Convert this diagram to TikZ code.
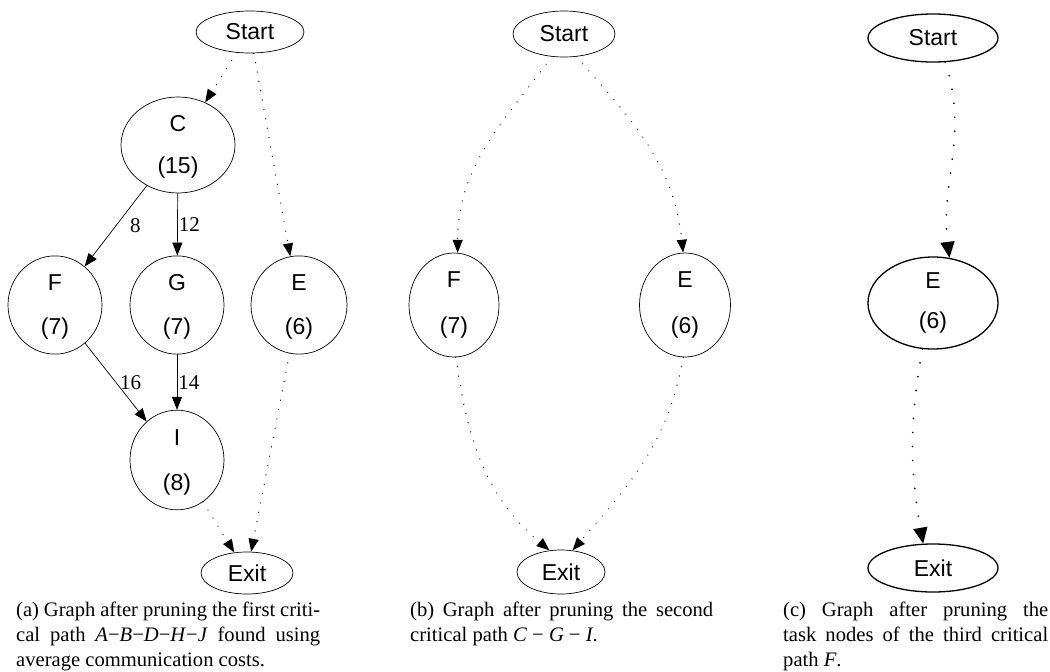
\documentclass[tikz,border=0pt]{standalone}
\usepackage{fontspec}
\setmainfont{Liberation Serif}
\setsansfont{Liberation Sans}
\usetikzlibrary{arrows.meta,shapes.geometric}
\newcommand{\toplift}{\rule{0pt}{0.9em}}
\begin{document}
\begin{tikzpicture}[x=1pt,y=-1pt,
  gnode/.style={draw, ellipse, line width=0.7pt, inner sep=0pt, align=center,
    font=\sffamily\fontsize{23}{25}\selectfont},
  gnodebold/.style={gnode, line width=1.3pt},
  solidarrow/.style={line width=0.7pt, -{Triangle[length=13pt,width=10pt]}},
  dotarrow/.style={line width=1.3pt, line cap=round, dash pattern=on 0.01pt off 9.5pt,
    -{Triangle[length=13pt,width=10pt]}},
  dotarrowbold/.style={line width=1.9pt, line cap=round, dash pattern=on 0.01pt off 14pt,
    -{Triangle[length=16pt,width=14pt]}},
  elabel/.style={font=\fontsize{21}{22}\selectfont, inner sep=0pt},
  capt/.style={anchor=north west, inner sep=0pt, align=justify,
    font=\fontsize{20.6}{25}\selectfont}
]
\useasboundingbox (0,0) rectangle (1050,672);

% ---------- panel (a)
\node[gnode, minimum width=108pt, minimum height=42pt] (startA) at (250,32) {Start};
\node[gnode, minimum width=114pt, minimum height=96pt] (C) at (178,145) {\toplift C\\[17pt](15)};
\node[gnode, minimum width=94pt, minimum height=94pt] (F) at (55,305) {\toplift F\\[19pt](7)};
\node[gnode, minimum width=94pt, minimum height=94pt] (G) at (177,305) {\toplift G\\[19pt](7)};
\node[gnode, minimum width=96pt, minimum height=96pt] (EA) at (299,305) {\toplift E\\[19pt](6)};
\node[gnode, minimum width=94pt, minimum height=94pt] (I) at (177,460) {\toplift I\\[20pt](8)};
\node[gnode, minimum width=92pt, minimum height=42pt] (exitA) at (247,573) {Exit};

\draw[dotarrow] (startA) -- (C);
\draw[dotarrow] (startA) -- (EA);
\draw[solidarrow] (C) -- node[elabel, pos=0.5, anchor=west, xshift=14pt] {8} (F);
\draw[solidarrow] (C) -- node[elabel, pos=0.5, anchor=west, xshift=1pt] {12} (G);
\draw[solidarrow] (F) -- node[elabel, pos=0.5, anchor=west, xshift=4pt] {16} (I);
\draw[solidarrow] (G) -- node[elabel, pos=0.5, anchor=west, xshift=1pt] {14} (I);
\draw[dotarrow] (I) -- (exitA);
\draw[dotarrow] (EA) -- (exitA);

\node[capt, text width=304pt] (capA) at (16,602)
  {(a)~Graph after pruning the first criti-\linebreak
   cal path \textit{A}−\textit{B}−\textit{D}−\textit{H}−\textit{J} found using\linebreak
   average communication costs.};

% ---------- panel (b)
\node[gnode, minimum width=102pt, minimum height=46pt] (startB) at (564,34) {Start};
\node[gnode, minimum width=90pt, minimum height=104pt] (FB) at (454,305) {F\\[21pt](7)};
\node[gnode, minimum width=91pt, minimum height=104pt] (EB) at (685,305) {E\\[21pt](6)};
\node[gnode, minimum width=88pt, minimum height=44pt] (exitB) at (561,572) {Exit};

\draw[dotarrow] (startB.-118) to[out=-127, in=90] (FB.86);
\draw[dotarrow] (startB.-62) to[out=-48, in=96] (EB.92);
\draw[dotarrow] (FB.-88) to[out=-82, in=140] (exitB.118);
\draw[dotarrow] (EB.-92) to[out=-100, in=49] (exitB.62);

\node[capt, text width=303pt] (capB) at (410,602)
  {(b)~Graph after pruning the second\linebreak
   critical path \textit{C} − \textit{G} − \textit{I}.};

% ---------- panel (c)
\node[gnodebold, minimum width=130pt, minimum height=48pt] (startC) at (933,38) {Start};
\node[gnodebold, minimum width=130pt, minimum height=92pt] (EC) at (933,303) {E\\[15pt](6)};
\node[gnodebold, minimum width=130pt, minimum height=48pt] (exitC) at (933,568) {Exit};

\draw[dotarrowbold] (startC.-63) to[out=-72, in=97] (EC.70);
\draw[dotarrowbold] (EC.-103) to[out=-100, in=100] (exitC.112);

\node[capt, text width=265pt] (capC) at (783,602)
  {(c)~Graph after pruning the\linebreak
   task nodes of the third critical\linebreak
   path \textit{F}.};
\end{tikzpicture}
\end{document}
